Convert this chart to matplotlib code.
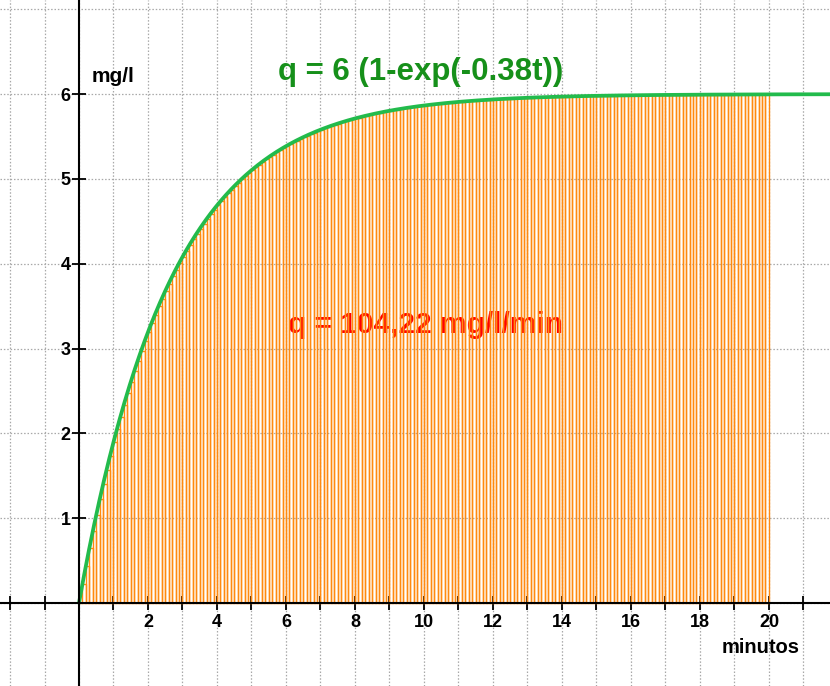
import numpy as np
import matplotlib.pyplot as plt
from matplotlib.ticker import MultipleLocator, FixedLocator

# parámetros de la curva, tomados del título del gráfico
q_max = 6.0
k_rate = 0.38
t_end = 20.0
dt = 0.1  # ancho de cada rectángulo
area_label = "q = 104,22 mg/l/min"
curve_label = "q = 6 (1-exp(-0.38t))"

x_ticks = [2, 4, 6, 8, 10, 12, 14, 16, 18, 20, 22]
y_ticks = [-1, 1, 2, 3, 4, 5, 6]

t_rect = np.arange(0, t_end, dt)
h_rect = q_max * (1 - np.exp(-k_rate * t_rect))
t_curve = np.linspace(0, 22, 600)
q_curve = q_max * (1 - np.exp(-k_rate * t_curve))

plt.rcParams['font.family'] = ['Liberation Sans', 'DejaVu Sans']

fig = plt.figure(figsize=(8.3, 6.86), dpi=100)
ax = fig.add_axes([0, 0, 1, 1])
ax.set_xlim(-2.29, 21.77)
ax.set_ylim(-0.98, 7.11)

# rejilla punteada
for gx in range(-2, 22):
    ax.axvline(gx, color='#a8a8a8', lw=0.9, ls=(0, (1.2, 1.5)), zorder=0)
for gy in range(-1, 8):
    ax.axhline(gy, color='#a8a8a8', lw=0.9, ls=(0, (1.2, 1.5)), zorder=0)

# texto del área (queda detrás de los rectángulos)
ax.text(10.03, 3.28, area_label, fontsize=21.5, fontweight='bold', color='#ff0000',
        ha='center', va='center', zorder=1)

# rectángulos (suma inferior)
ax.bar(t_rect, h_rect, width=dt, align='edge', fill=False,
       edgecolor='#ff8a10', linewidth=1.0, zorder=2)

# curva
ax.plot(t_curve, q_curve, color='#22bb4c', lw=2.7, zorder=3, solid_capstyle='round')

# ejes en el origen
for s in ['top', 'right']:
    ax.spines[s].set_visible(False)
ax.spines['left'].set_position(('data', 0))
ax.spines['bottom'].set_position(('data', 0))
ax.spines['left'].set_linewidth(1.5)
ax.spines['bottom'].set_linewidth(1.5)
ax.spines['left'].set_zorder(4)
ax.spines['bottom'].set_zorder(4)

ax.xaxis.set_major_locator(FixedLocator(x_ticks))
ax.xaxis.set_minor_locator(MultipleLocator(1))
ax.yaxis.set_major_locator(FixedLocator(y_ticks))
ax.tick_params(axis='x', which='both', direction='inout', length=10, width=1.3,
               labelsize=13, pad=3)
ax.tick_params(axis='y', which='both', direction='inout', length=10, width=1.3,
               labelsize=13, pad=1)
for lab in ax.get_xticklabels() + ax.get_yticklabels():
    lab.set_fontweight('bold')

ax.text(0.38, 6.21, 'mg/l', fontsize=15, fontweight='bold', ha='left', va='center')
ax.text(19.77, -0.53, 'minutos', fontsize=14.5, fontweight='bold', ha='center', va='center')
ax.text(9.91, 6.26, curve_label, fontsize=22.5, fontweight='bold', color='#16901a',
        ha='center', va='center')

fig.savefig('out.png', dpi=100)
